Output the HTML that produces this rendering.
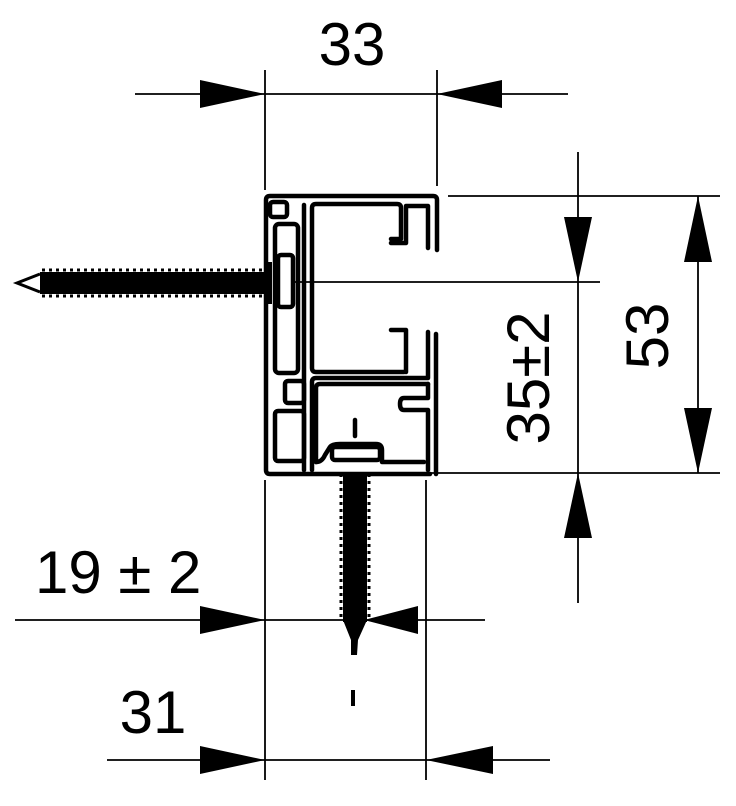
<!DOCTYPE html>
<html><head><meta charset="utf-8"><style>html,body{margin:0;padding:0;background:#fff}svg{display:block}</style></head>
<body>
<svg width="736" height="806" viewBox="0 0 736 806" xmlns="http://www.w3.org/2000/svg">
<g stroke="#000" stroke-width="1.8" fill="none">
<line x1="135" y1="94" x2="568" y2="94"/>
<line x1="265" y1="70" x2="265" y2="190"/>
<line x1="437" y1="70" x2="437" y2="186"/>
<line x1="448" y1="196" x2="720" y2="196"/>
<line x1="430" y1="473" x2="720" y2="473"/>
<line x1="295" y1="282" x2="600" y2="282"/>
<line x1="578" y1="152" x2="578" y2="603"/>
<line x1="698" y1="196" x2="698" y2="473"/>
<line x1="15" y1="620" x2="485" y2="620"/>
<line x1="107" y1="760" x2="550" y2="760"/>
<line x1="265" y1="480" x2="265" y2="780"/>
<line x1="426" y1="480" x2="426" y2="780"/>
</g>
<g fill="#000">
<polygon points="200,80 265,94 200,108"/>
<polygon points="502,80 437,94 502,108"/>
<polygon points="564,217 592,217 578,282"/>
<polygon points="564,538 592,538 578,473"/>
<polygon points="684,262 712,262 698,196"/>
<polygon points="684,408 712,408 698,473"/>
<polygon points="200,606 265,620 200,634"/>
<polygon points="418,606 364,620 418,634"/>
<polygon points="200,746 265,760 200,774"/>
<polygon points="493,746 426,760 493,774"/>
</g>
<g font-family="Liberation Sans, sans-serif" font-size="60" fill="#000">
<text x="352" y="65" text-anchor="middle">33</text>
<text x="35" y="593">19 ± 2</text>
<text x="153" y="733" text-anchor="middle">31</text>
<text transform="translate(549,378) rotate(-90)" text-anchor="middle">35±2</text>
<text transform="translate(668,336) rotate(-90)" text-anchor="middle">53</text>
</g>
<g stroke="#000" stroke-width="4.5" fill="none" stroke-linejoin="round" stroke-linecap="round">
<path d="M437,250 L437,200 Q437,196 433,196 L270,196 Q266,196 266,200 L266,470 Q266,474 270,474 L430,474"/>
<path d="M436,334 L436,474"/>
<path d="M428,248 L428,206 L406,206 L406,243 L391,243"/>
<path d="M391,239 L401,239 L401,208 Q401,204 397,204 L316,204 Q312,204 312,208 L312,368 Q312,372 316,372 L404,372"/>
<path d="M391,330 L406,330 L406,372"/>
<path d="M428,332 L428,378 L316,378 Q312,378 312,382 L312,470"/>
<path d="M428,384 L428,398 L404,398 Q400,398 400,404 Q400,410 404,410 L428,410 L428,470"/>
<path d="M428,384 L320,384 Q316,384 316,388 L316,462"/>
<path d="M304,205 L304,470"/>
<rect x="270" y="202" width="17" height="15" rx="3"/>
<rect x="275" y="224" width="23" height="149" rx="4"/>
<rect x="278" y="255" width="15" height="52" rx="3"/>
<rect x="285" y="381" width="19" height="22" rx="3"/>
<rect x="275" y="411" width="29" height="50" rx="3"/>
<path d="M316,462 Q322,462 325,455 L330,447 Q332,444 340,444 L376,444 Q382,444 382,450 L382,462 L424,462"/>
<rect x="332" y="447" width="48" height="13" rx="3"/>
<line x1="355" y1="420" x2="355" y2="436"/>
</g>
<g fill="#000">
<rect x="40" y="272" width="228" height="22"/>
<polygon points="266,262 272,262 272,304 266,304"/>
</g>
<path d="M40,274 L17,283 L40,292" fill="none" stroke="#000" stroke-width="3"/>
<line x1="42" y1="270" x2="268" y2="270" stroke="#000" stroke-width="3" stroke-dasharray="3,4"/>
<line x1="42" y1="296" x2="268" y2="296" stroke="#000" stroke-width="3" stroke-dasharray="3,4"/>
<g fill="#000">
<rect x="343" y="472" width="24" height="150"/>
<polygon points="343,620 367,620 358,640 357,655 351,655 351,640"/>
<rect x="351" y="690" width="4" height="16"/>
</g>
<line x1="341" y1="474" x2="341" y2="620" stroke="#000" stroke-width="3" stroke-dasharray="3,4"/>
<line x1="369" y1="474" x2="369" y2="620" stroke="#000" stroke-width="3" stroke-dasharray="3,4"/>
</svg>
</body></html>
